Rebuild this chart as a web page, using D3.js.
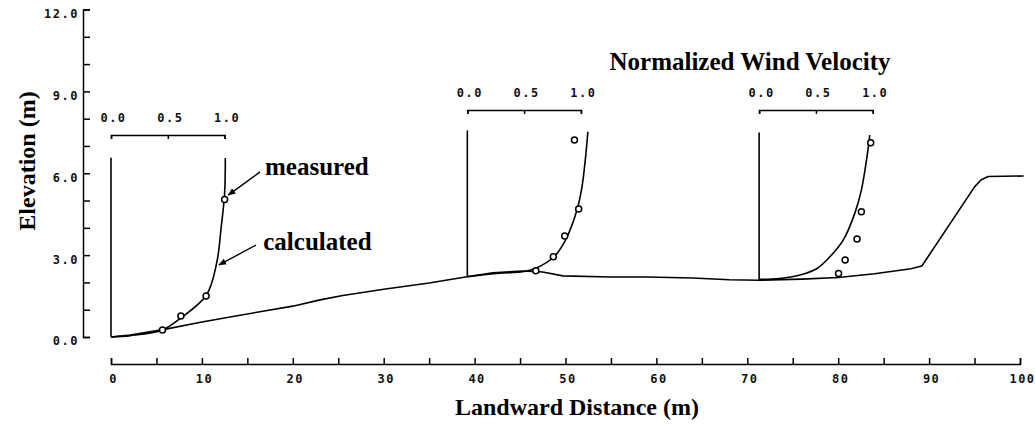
<!DOCTYPE html>
<html>
<head>
<meta charset="utf-8">
<script src="https://cdn.jsdelivr.net/npm/d3@7"></script>
<style>
  html, body { margin: 0; padding: 0; background: #fff; }
  svg { display: block; }
</style>
</head>
<body>
<svg id="chart" width="1035" height="430"></svg>
<script>
// ---------------- data ----------------
// Ground profile: landward distance (m) and elevation (m)
const terrainX    = [0, 2.1, 5.6, 10, 14.2, 20, 23, 25.5, 30, 35, 39, 42, 45.3, 47.5, 49.7, 55, 59, 64, 68, 71.3, 76, 80, 84, 88, 89.2, 95, 95.7, 96.5, 100.4];
const terrainElev = [0, 0.07, 0.26, 0.55, 0.8, 1.13, 1.36, 1.52, 1.75, 1.98, 2.2, 2.35, 2.42, 2.38, 2.24, 2.2, 2.2, 2.16, 2.1, 2.08, 2.12, 2.18, 2.32, 2.5, 2.6, 5.5, 5.75, 5.88, 5.9];

// Wind profile stations (landward distance, m) and vertical reference
const stationX    = [0, 39.2, 71.3];
const stationBase = [0, 2.21, 2.11];
const stationTop  = [6.57, 7.57, 7.49];

// Calculated profiles: normalized velocity and elevation (m)
const calc1V = [0, 0.17, 0.453, 0.615, 0.84, 0.93, 0.97, 1.0, 1.006];
const calc1E = [0, 0.05, 0.26, 0.70, 1.54, 2.71, 4.03, 5.27, 6.56];
const calc2V = [0, 0.284, 0.487, 0.603, 0.763, 0.864, 0.965, 1.009, 1.038, 1.061];
const calc2E = [2.21, 2.34, 2.39, 2.52, 2.94, 3.55, 4.65, 5.5, 6.48, 7.52];
const calc3V = [0, 0.18, 0.36, 0.506, 0.623, 0.74, 0.842, 0.9, 0.945, 0.974];
const calc3E = [2.11, 2.14, 2.27, 2.5, 2.94, 3.55, 4.53, 5.38, 6.48, 7.4];

// Measured profiles: normalized velocity and elevation (m)
const meas1V = [0.453, 0.615, 0.837, 1.0];
const meas1E = [0.26, 0.77, 1.5, 5.04];
const meas2V = [0.603, 0.757, 0.857, 0.98, 0.943];
const meas2E = [2.43, 2.94, 3.7, 4.69, 7.22];
const meas3V = [0.699, 0.757, 0.862, 0.9, 0.982];
const meas3E = [2.33, 2.82, 3.59, 4.59, 7.12];

// Axis ticks
const xTicks = d3.range(0, 101, 5);
const xLabels = [0, 10, 20, 30, 40, 50, 60, 70, 80, 90, 100];
const yTicks = d3.range(0, 13, 1);
const yLabels = [0, 3, 6, 9, 12];
const velTicks = [0, 0.5, 1.0];

// ---------------- layout ----------------
const VEL_SPAN = 12.5;              // metres of distance per 1.0 of normalized velocity
const barElev = [7.4, 8.32, 8.32];  // elevation of each velocity scale bar
const tickFont = "'DejaVu Sans Mono', monospace";
const serif = "'Liberation Serif', 'Times New Roman', serif";

const svg = d3.select("#chart");
const x = d3.scaleLinear().domain([0, 100]).range([111, 1020]);
const y = d3.scaleLinear().domain([0, 12]).range([337, 9.5]);

const calcV = [calc1V, calc2V, calc3V], calcE = [calc1E, calc2E, calc3E];
const measV = [meas1V, meas2V, meas3V], measE = [meas1E, meas2E, meas3E];

function styleTickText(sel) {
  sel.attr("font-family", tickFont).attr("font-size", 12).attr("font-weight", "bold")
    .attr("letter-spacing", "1.5px").attr("fill", "#111");
}

// ---------------- axes ----------------
const yAxis = d3.axisLeft(y).tickValues(yTicks).tickSize(-7).tickSizeOuter(-7).tickPadding(4)
  .tickFormat(d => yLabels.includes(d) ? d3.format(".1f")(d) : "");
const gy = svg.append("g").attr("transform", "translate(83,0)").call(yAxis);

const xAxis = d3.axisBottom(x).tickValues(xTicks).tickSize(-6).tickSizeOuter(-6).tickPadding(10)
  .tickFormat(d => xLabels.includes(d) ? String(d) : "");
const gx = svg.append("g").attr("transform", "translate(0,364)").call(xAxis);

[gx, gy].forEach(g => {
  g.selectAll("path, line").attr("stroke", "#000").attr("stroke-width", 1.5);
  styleTickText(g.selectAll("text"));
});
gy.selectAll("text").attr("dy", "0.66em");
gx.selectAll("text").attr("dx", "2");

// ---------------- terrain ----------------
const terrain = terrainX.map((d, i) => [d, terrainElev[i]]);
svg.append("path")
  .attr("d", d3.line().x(d => x(d[0])).y(d => y(d[1]))(terrain))
  .attr("fill", "none").attr("stroke", "#000").attr("stroke-width", 1.6)
  .attr("stroke-linejoin", "round");

// ---------------- wind profiles ----------------
stationX.forEach((sx, i) => {
  const v = d3.scaleLinear().domain([0, 1]).range([x(sx), x(sx + VEL_SPAN)]);

  // vertical reference line (zero velocity)
  svg.append("line")
    .attr("x1", x(sx)).attr("x2", x(sx))
    .attr("y1", y(stationBase[i])).attr("y2", y(stationTop[i]))
    .attr("stroke", "#000").attr("stroke-width", 1.6);

  // velocity scale bar
  const bar = svg.append("g").attr("transform", `translate(0,${y(barElev[i])})`)
    .call(d3.axisTop(v).tickValues(velTicks).tickSize(-4).tickSizeOuter(-4).tickPadding(13)
      .tickFormat(d3.format(".1f")));
  bar.selectAll("path, line").attr("stroke", "#000").attr("stroke-width", 1.5);
  styleTickText(bar.selectAll("text"));
  bar.selectAll("text").attr("dx", "2");

  // calculated curve
  const pts = calcV[i].map((d, k) => [d, calcE[i][k]]);
  svg.append("path")
    .attr("d", d3.line().x(d => v(d[0])).y(d => y(d[1])).curve(d3.curveCatmullRom.alpha(0.5))(pts))
    .attr("fill", "none").attr("stroke", "#000").attr("stroke-width", 1.6);

  // measured points
  svg.append("g").selectAll("circle")
    .data(measV[i].map((d, k) => [d, measE[i][k]]))
    .join("circle")
    .attr("cx", d => v(d[0])).attr("cy", d => y(d[1])).attr("r", 3)
    .attr("fill", "#fff").attr("stroke", "#000").attr("stroke-width", 1.5);
});

// ---------------- annotations ----------------
svg.append("defs").append("marker")
  .attr("id", "ah").attr("viewBox", "0 0 10 10").attr("refX", 9).attr("refY", 5)
  .attr("markerWidth", 8).attr("markerHeight", 8).attr("markerUnits", "userSpaceOnUse")
  .attr("orient", "auto")
  .append("path").attr("d", "M0,1 L10,5 L0,9 Z").attr("fill", "#000");

const arrows = [
  { t: [16.39, 6.05], h: [12.9, 5.2] },
  { t: [15.95, 3.37], h: [11.88, 2.64] }
];
arrows.forEach(a => {
  svg.append("line")
    .attr("x1", x(a.t[0])).attr("y1", y(a.t[1]))
    .attr("x2", x(a.h[0])).attr("y2", y(a.h[1]))
    .attr("stroke", "#000").attr("stroke-width", 1.4)
    .attr("marker-end", "url(#ah)");
});

const notes = [
  { text: "measured", at: [16.94, 5.93] },
  { text: "calculated", at: [16.75, 3.19] }
];
notes.forEach(n => {
  svg.append("text").attr("x", x(n.at[0])).attr("y", y(n.at[1]))
    .attr("font-family", serif).attr("font-weight", "bold").attr("font-size", 25)
    .text(n.text);
});

svg.append("text").attr("x", 750).attr("y", 70).attr("text-anchor", "middle")
  .attr("font-family", serif).attr("font-weight", "bold").attr("font-size", 25)
  .text("Normalized Wind Velocity");

svg.append("text").attr("x", 577).attr("y", 415).attr("text-anchor", "middle")
  .attr("font-family", serif).attr("font-weight", "bold").attr("font-size", 24)
  .text("Landward Distance (m)");

svg.append("text").attr("transform", "translate(35,161) rotate(-90)").attr("text-anchor", "middle")
  .attr("font-family", serif).attr("font-weight", "bold").attr("font-size", 24)
  .text("Elevation (m)");
</script>
</body>
</html>
